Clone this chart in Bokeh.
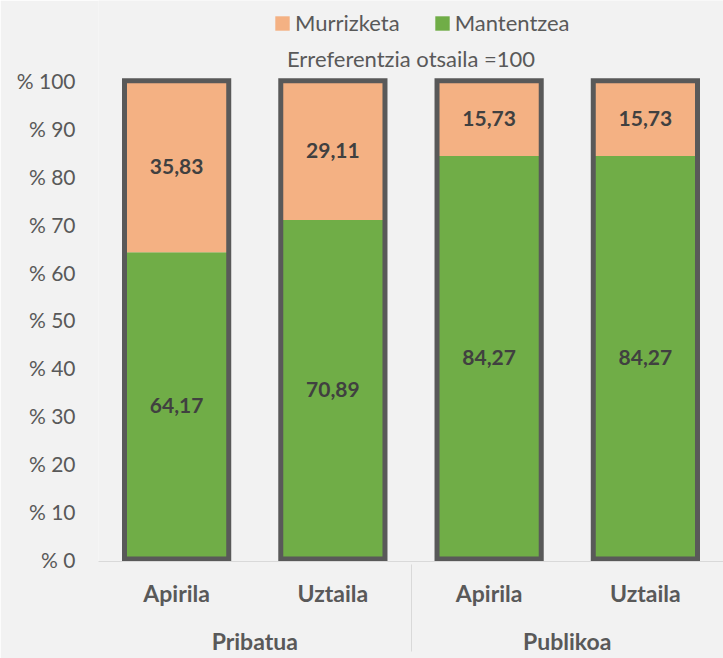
from bokeh.plotting import figure
from bokeh.models import (ColumnDataSource, FactorRange, Range1d, FixedTicker,
                          Legend, LegendItem, LabelSet, Label)
from bokeh.core.properties import value
from bokeh.embed import file_html
from bokeh.resources import INLINE

# ---- data ----
groups = ["Pribatua", "Pribatua", "Publikoa", "Publikoa"]
months = ["Apirila", "Uztaila", "Apirila", "Uztaila"]
mantentzea = [64.17, 70.89, 84.27, 84.27]
murrizketa = [35.83, 29.11, 15.73, 15.73]
series_names = ["Murrizketa", "Mantentzea"]
y_ticks = [0, 10, 20, 30, 40, 50, 60, 70, 80, 90, 100]
y_tick_labels = ["% 0", "% 10", "% 20", "% 30", "% 40", "% 50",
                 "% 60", "% 70", "% 80", "% 90", "% 100"]
subtitle = "Erreferentzia otsaila =100"

# ---- styles ----
GREEN = "#70AD47"
ORANGE = "#F4B183"
OUTLINE = "#595959"
TEXT = "#595959"
LABEL = "#404040"
BG = "#F2F2F2"
FONT = "Lato"

factors = list(zip(groups, months))
fmt = lambda v: f"{v:.2f}".replace(".", ",")

src = ColumnDataSource(dict(
    x=factors,
    mantentzea=mantentzea,
    murrizketa=murrizketa,
    total=[a + b for a, b in zip(mantentzea, murrizketa)],
    y_mant=[a / 2 for a in mantentzea],
    y_murr=[a + b / 2 for a, b in zip(mantentzea, murrizketa)],
    t_mant=[fmt(a) for a in mantentzea],
    t_murr=[fmt(b) for b in murrizketa],
))

x_range = FactorRange(factors=factors, range_padding=0, group_padding=0,
                      factor_padding=0)

# y range extends above 100 to hold legend and subtitle inside the frame
p = figure(x_range=x_range, y_range=Range1d(-0.5, 116.8),
           width=723, height=658, output_backend="svg", toolbar_location=None,
           min_border_left=98, min_border_right=0, min_border_top=0,
           min_border_bottom=97)
p.background_fill_color = BG
p.border_fill_color = BG
p.outline_line_color = None
p.xgrid.grid_line_color = None
p.ygrid.grid_line_color = None

rs = p.vbar_stack(["mantentzea", "murrizketa"], x="x", width=0.667,
                  color=[GREEN, ORANGE], line_color=None, source=src)
p.vbar(x="x", top="total", bottom=0, width=0.667, fill_color=None,
       line_color=OUTLINE, line_width=5, line_join="miter", source=src)

for ycol, tcol in (("y_mant", "t_mant"), ("y_murr", "t_murr")):
    p.add_layout(LabelSet(x="x", y=ycol, text=tcol, source=src,
                          text_align="center", text_baseline="middle",
                          text_font=value(FONT), text_font_style="bold",
                          text_font_size="21px", text_color=LABEL))

# y axis
yax = p.yaxis[0]
yax.ticker = FixedTicker(ticks=y_ticks)
yax.major_label_overrides = {t: l for t, l in zip(y_ticks, y_tick_labels)}
yax.axis_line_color = None
yax.major_tick_line_color = None
yax.minor_tick_line_color = None
yax.major_tick_out = 0
yax.major_label_standoff = 23
yax.major_label_text_font = FONT
yax.major_label_text_font_size = "21px"
yax.major_label_text_color = TEXT

# x axis
xax = p.xaxis[0]
xax.axis_line_color = "#D9D9D9"
xax.major_tick_line_color = None
xax.major_tick_out = 0
xax.major_label_standoff = 17
xax.major_label_text_font = FONT
xax.major_label_text_font_style = "bold"
xax.major_label_text_font_size = "23px"
xax.major_label_text_color = TEXT
xax.group_text_font = FONT
xax.group_text_font_style = "bold"
xax.group_text_font_size = "23px"
xax.group_text_color = TEXT
xax.separator_line_color = "#D9D9D9"
xax.separator_line_width = 1

# subtitle centred over the plot area
p.add_layout(Label(x=2.0, y=104.7, text=subtitle, text_align="center",
                   text_baseline="middle", text_font=FONT,
                   text_font_size="22px", text_color=TEXT))

legend = Legend(items=[LegendItem(label=series_names[0], renderers=[rs[1]]),
                       LegendItem(label=series_names[1], renderers=[rs[0]])],
                orientation="horizontal", location=(175, 525),
                glyph_width=18, glyph_height=18, label_standoff=4,
                spacing=33, padding=0, margin=0,
                label_text_font=FONT, label_text_font_size="22px",
                label_text_color=TEXT, background_fill_alpha=0,
                border_line_color=None)
p.add_layout(legend)

open("out.html", "w").write(file_html(p, INLINE))
